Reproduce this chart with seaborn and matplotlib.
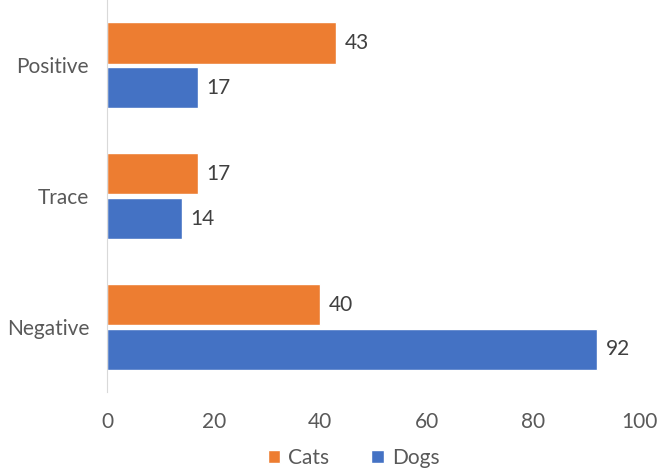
import pandas as pd
import matplotlib.pyplot as plt
import seaborn as sns

# chart data
results = ['Positive', 'Trace', 'Negative']
cats = [43, 17, 40]
dogs = [17, 14, 92]
x_ticks = [0, 20, 40, 60, 80, 100]

df = pd.DataFrame({
    'result': results * 2,
    'count': cats + dogs,
    'animal': ['Cats'] * len(cats) + ['Dogs'] * len(dogs),
})

sns.set_style('white')
plt.rcParams['font.family'] = ['Lato', 'DejaVu Sans']

fig = plt.figure(figsize=(6.61, 4.71), dpi=100)
ax = fig.add_axes([0.162, 0.167, 0.806, 0.833])

palette = {'Cats': '#ED7D31', 'Dogs': '#4472C4'}
sns.barplot(data=df, y='result', x='count', hue='animal', order=results,
            hue_order=['Cats', 'Dogs'], palette=palette, orient='h',
            width=0.684, gap=0.08, saturation=1, ax=ax, legend=True)

# value labels
for cont in ax.containers:
    ax.bar_label(cont, padding=6, fontsize=15, color='#404040')

ax.set_xlim(0, 100)
ax.set_xticks(x_ticks)
ax.set_xlabel('')
ax.set_ylabel('')
ax.tick_params(axis='both', length=0, labelsize=15, colors='#595959')
ax.tick_params(axis='y', pad=13)
ax.tick_params(axis='x', pad=14)

for s in ['top', 'right', 'bottom']:
    ax.spines[s].set_visible(False)
ax.spines['left'].set_color('#d9d9d9')

ax.legend_.remove()
handles, labels = ax.get_legend_handles_labels()
fig.legend(handles[:2], labels[:2], loc='center', bbox_to_anchor=(0.535, 0.028),
           ncol=2, frameon=False, fontsize=15, handlelength=0.6, handleheight=0.6,
           handletextpad=0.4, columnspacing=2.0, labelcolor='#595959')

fig.savefig('out.png', dpi=100)
